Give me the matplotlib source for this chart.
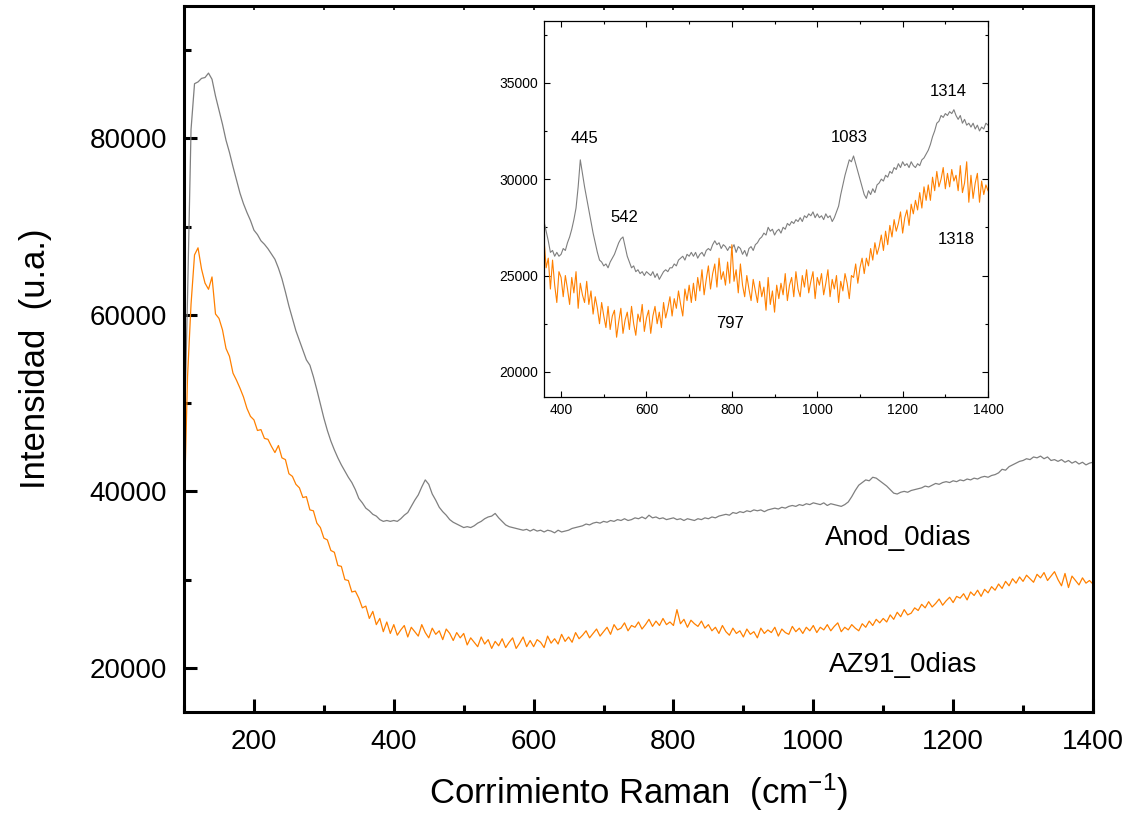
import numpy as np
import matplotlib
matplotlib.use('Agg')
import matplotlib.pyplot as plt
from matplotlib.ticker import MultipleLocator

plt.rcParams['font.family'] = ['Liberation Sans', 'DejaVu Sans']
plt.rcParams['mathtext.fontset'] = 'custom'
plt.rcParams['mathtext.rm'] = 'Liberation Sans'
plt.rcParams['mathtext.default'] = 'regular'

###
# DADOS (intensidade em milhares de contagens)
###
raman = np.arange(100, 1401, 5)  # eixo principal, passo de 5 cm-1

anod_0dias = [
    45.0, 62.0, 81.0, 86.2, 86.4, 86.8, 86.9, 87.4, 86.7, 84.8,
    83.2, 81.6, 79.8, 78.4, 76.8, 75.3, 73.8, 72.6, 71.6, 70.7,
    69.6, 69.1, 68.4, 68.0, 67.5, 66.9, 66.3, 65.3, 64.1, 62.6,
    61.0, 59.6, 58.2, 57.1, 56.0, 54.9, 54.3, 53.0, 51.5, 49.9,
    48.3, 46.9, 45.7, 44.7, 43.8, 43.0, 42.3, 41.6, 41.0, 40.2,
    39.2, 38.7, 38.1, 37.8, 37.4, 37.2, 36.8, 36.6, 36.7, 36.6,
    36.7, 36.6, 36.9, 37.3, 37.6, 38.3, 39.0, 39.6, 40.5, 41.3,
    40.8, 39.7, 39.0, 38.2, 37.7, 37.3, 36.8, 36.5, 36.3, 36.1,
    35.9, 36.0, 35.9, 36.1, 36.4, 36.6, 36.9, 37.1, 37.2, 37.5,
    37.0, 36.6, 36.2, 36.0, 35.9, 35.8, 35.7, 35.6, 35.7, 35.5,
    35.7, 35.5, 35.6, 35.4, 35.6, 35.5, 35.3, 35.6, 35.4, 35.5,
    35.6, 35.8, 35.9, 36.0, 36.1, 36.3, 36.2, 36.4, 36.5, 36.4,
    36.6, 36.5, 36.7, 36.6, 36.8, 36.7, 36.9, 36.7, 36.8, 37.0,
    36.9, 37.1, 36.9, 37.3, 37.0, 37.1, 36.9, 37.0, 36.8, 36.9,
    37.0, 36.8, 36.9, 36.7, 36.9, 36.8, 36.7, 36.9, 36.8, 37.0,
    36.9, 37.1, 37.0, 37.2, 37.3, 37.4, 37.3, 37.6, 37.5, 37.7,
    37.6, 37.8, 37.7, 37.9, 37.8, 37.9, 37.7, 37.9, 38.0, 38.1,
    38.0, 38.2, 38.1, 38.3, 38.4, 38.3, 38.5, 38.4, 38.6, 38.5,
    38.7, 38.6, 38.5, 38.7, 38.4, 38.6, 38.5, 38.4, 38.3, 38.5,
    38.8, 39.4, 40.1, 40.7, 41.0, 41.3, 41.2, 41.6, 41.5, 41.2,
    40.9, 40.6, 40.2, 39.8, 39.7, 39.9, 40.0, 39.9, 40.1, 40.2,
    40.3, 40.4, 40.6, 40.5, 40.7, 40.9, 40.8, 41.0, 41.1, 41.0,
    41.2, 41.1, 41.3, 41.2, 41.4, 41.3, 41.5, 41.4, 41.6, 41.7,
    41.6, 41.8, 41.9, 42.1, 42.5, 42.4, 42.8, 43.0, 43.2, 43.4,
    43.5, 43.7, 43.6, 43.9, 43.8, 44.0, 43.7, 43.9, 43.5, 43.6,
    43.4, 43.6, 43.3, 43.5, 43.2, 43.4, 43.1, 43.3, 43.0, 43.2,
    43.3]

az91_0dias = [
    37.3, 53.0, 61.2, 66.8, 67.6, 65.2, 63.6, 62.9, 64.3, 60.1,
    59.6, 58.3, 56.2, 55.3, 53.4, 52.6, 51.7, 50.7, 49.4, 48.5,
    48.1, 46.9, 47.0, 46.0, 45.9, 45.1, 44.4, 45.2, 43.8, 43.6,
    42.0, 41.7, 40.8, 40.4, 39.3, 39.4, 37.9, 37.8, 36.4, 35.9,
    34.7, 34.5, 33.3, 33.1, 31.6, 31.5, 30.0, 29.9, 28.6, 28.7,
    27.9, 26.8, 27.0, 25.6, 26.4, 24.9, 25.6, 24.1, 25.2, 23.9,
    24.9, 23.7, 24.3, 24.8, 23.5, 24.6, 24.1, 23.6, 24.9, 24.0,
    23.4, 24.5, 23.8, 24.2, 23.2, 24.4, 23.9, 23.1, 24.0, 23.4,
    23.9, 22.6, 23.4, 22.9, 22.4, 23.5, 22.7, 23.2, 22.2, 23.0,
    22.5, 23.3, 22.3, 22.9, 23.4, 22.2, 22.8, 23.5, 22.4, 23.1,
    22.4, 23.2, 22.9, 22.3, 23.6, 22.8, 23.3, 22.7, 23.8, 23.0,
    23.5, 22.9, 24.0, 23.3, 23.7, 24.2, 23.4, 23.9, 24.4, 23.6,
    24.1, 24.6, 23.8, 24.9, 24.3, 24.5, 25.1, 24.2, 24.8, 24.6,
    25.2, 24.4, 24.9, 25.5, 24.7, 25.3, 24.8, 25.6, 24.9, 25.2,
    24.8, 26.6, 25.0, 25.5, 24.6, 25.4, 25.0, 24.7, 25.3, 24.5,
    24.9, 24.2, 24.6, 23.9, 24.8, 24.1, 23.7, 24.5, 23.9, 24.2,
    23.5, 24.4, 23.8, 24.1, 23.4, 24.5, 23.9, 24.3, 24.0, 24.6,
    23.6, 24.4, 24.0, 23.8, 24.7, 24.1, 24.5, 23.9, 24.6, 24.2,
    24.8, 24.0, 24.6, 24.3, 24.9, 24.2, 24.7, 25.1, 24.1, 24.6,
    24.3, 24.9, 24.5, 24.2, 25.0, 24.6, 25.3, 24.8, 25.5, 25.1,
    25.6, 25.2, 26.0, 25.5, 26.3, 25.8, 26.6, 26.0, 26.2, 26.8,
    26.5, 27.2, 26.8, 27.5, 26.9, 27.3, 27.8, 27.1, 27.6, 28.0,
    27.4, 28.1, 27.9, 28.4, 27.7, 28.6, 28.2, 28.8, 28.1, 28.9,
    28.5, 29.2, 28.8, 29.5, 29.0, 29.8, 29.3, 30.1, 29.6, 30.3,
    29.8, 30.5, 30.1, 29.7, 30.6, 30.2, 30.8, 29.9, 30.4, 30.9,
    30.0, 29.3, 30.7, 29.1, 30.4, 29.9, 29.4, 30.2, 29.6, 29.9,
    29.5]

raman_zoom = np.arange(360, 1401, 5)  # eixo do detalhe

anod_zoom = [
    27.8, 27.3, 26.8, 26.2, 26.3, 26.0, 26.2, 26.0, 26.1, 26.4,
    26.3, 26.7, 27.0, 27.4, 27.9, 28.5, 29.6, 31.0, 30.3, 29.6,
    29.0, 28.4, 27.8, 27.2, 26.7, 26.2, 25.8, 25.7, 25.5, 25.6,
    25.4, 25.7, 25.9, 26.1, 26.4, 26.7, 26.9, 27.0, 26.5, 26.0,
    25.7, 25.4, 25.5, 25.2, 25.3, 25.1, 25.2, 25.0, 25.2, 25.1,
    25.0, 25.2, 24.9, 25.1, 24.8, 25.0, 25.2, 25.3, 25.2, 25.4,
    25.4, 25.6, 25.5, 25.8, 25.9, 26.0, 25.8, 26.1, 26.0, 26.2,
    26.0, 26.2, 25.9, 26.1, 26.2, 26.0, 26.3, 26.4, 26.3, 26.6,
    26.8, 26.6, 26.7, 26.4, 26.6, 26.5, 26.3, 26.5, 26.4, 26.6,
    26.2, 26.5, 26.4, 26.1, 26.3, 26.0, 26.4, 26.5, 26.3, 26.6,
    26.7, 26.9, 27.0, 27.2, 27.1, 27.5, 27.3, 27.4, 27.1, 27.3,
    27.4, 27.2, 27.5, 27.4, 27.7, 27.6, 27.8, 27.7, 27.9, 27.8,
    28.0, 27.8, 28.1, 28.0, 28.2, 28.1, 28.3, 28.0, 28.2, 28.0,
    28.1, 27.9, 28.2, 28.0, 28.1, 27.8, 28.0, 28.3, 28.6, 29.2,
    29.7, 30.2, 30.6, 31.0, 30.9, 31.2, 30.8, 30.4, 30.0, 29.6,
    29.2, 29.0, 29.4, 29.2, 29.5, 29.3, 29.7, 29.8, 30.0, 29.9,
    30.2, 30.1, 30.4, 30.3, 30.6, 30.5, 30.8, 30.6, 30.9, 30.7,
    30.8, 30.6, 30.9, 30.7, 30.6, 30.8, 30.7, 31.0, 31.1, 31.3,
    31.5, 31.8, 32.2, 32.5, 32.9, 33.0, 33.3, 33.2, 33.4, 33.3,
    33.5, 33.4, 33.6, 33.3, 33.1, 33.3, 32.9, 33.1, 32.8, 32.9,
    32.7, 32.9, 32.6, 32.8, 32.5, 32.7, 32.6, 32.9, 32.8]

az91_zoom = [
    26.9, 25.4, 25.9, 24.3, 25.8, 24.5, 23.6, 25.2, 24.9, 23.9,
    25.0, 24.3, 23.5, 24.9, 24.1, 25.2, 23.3, 24.6, 24.0, 23.6,
    24.7, 23.5, 24.2, 23.0, 23.9, 23.3, 22.5, 23.6, 22.9, 22.3,
    23.4, 22.2, 22.9, 23.2, 21.8, 22.6, 23.3, 22.0, 22.7, 23.1,
    22.2, 23.4, 22.5, 21.9, 23.0, 22.6, 23.5, 22.1, 22.8, 23.2,
    22.0, 22.9, 23.4, 22.5, 23.1, 22.3, 23.6, 22.8, 23.3, 23.9,
    22.9, 23.8, 23.3, 24.2, 23.5, 22.9, 24.3, 23.7, 24.5, 23.6,
    24.6, 23.7, 24.9, 24.2, 25.3, 24.0, 24.8, 25.5, 24.3, 25.1,
    25.6, 24.4, 25.9, 24.8, 25.2, 24.5, 25.7, 24.6, 26.6, 24.7,
    25.3, 24.1, 25.6, 24.5, 23.9, 25.0, 24.3, 23.7, 24.8, 24.2,
    23.6, 24.7, 23.9, 24.4, 23.2, 24.9, 23.5, 24.2, 23.1, 24.5,
    23.8, 24.6, 24.0, 25.1, 23.7, 24.5, 24.9, 23.9, 25.2, 24.3,
    23.9, 25.0, 24.4, 25.3, 24.1, 24.7, 25.2, 23.8, 24.9, 24.5,
    25.1, 24.0, 24.6, 25.3, 23.9, 24.8, 24.3, 25.0, 23.6, 24.7,
    24.2, 25.1, 24.6, 23.8, 25.0, 24.9, 25.6, 24.6, 25.4, 25.9,
    25.1, 25.9, 25.5, 26.4, 25.8, 26.7, 26.1, 26.5, 27.1, 26.3,
    27.3, 26.6, 27.6, 27.0, 27.9, 27.3, 27.7, 28.3, 27.2, 28.0,
    28.4, 27.6, 28.7, 28.2, 28.9, 28.4, 29.3, 28.5, 29.6, 28.9,
    29.7, 28.9, 30.1, 29.4, 30.4, 29.6, 30.0, 30.6, 29.5, 30.3,
    29.6, 30.5, 29.9, 30.2, 29.4, 30.7, 29.3, 29.8, 30.9, 28.8,
    30.2, 29.0, 29.8, 30.3, 28.8, 29.9, 29.2, 29.7, 29.4]

# picos marcados no detalhe: (texto, x, y)
picos = [('445', 454, 32130), ('542', 547, 28035), ('1083', 1074, 32180),
         ('1314', 1306, 34570), ('1318', 1325, 26890), ('797', 796, 22490)]

cinza = '#7f7f7f'
laranja = '#ff8000'

###
# GRAFICO PRINCIPAL
###
fig = plt.figure(figsize=(11.27, 8.15), dpi=100)
ax = fig.add_axes([0.1633, 0.1264, 0.8065, 0.8662])
ax.plot(raman, np.array(anod_0dias) * 1000, color=cinza, lw=0.9)
ax.plot(raman, np.array(az91_0dias) * 1000, color=laranja, lw=0.9)
ax.set_xlim(100, 1400)
ax.set_ylim(15000, 95000)
ax.xaxis.set_major_locator(MultipleLocator(200))
ax.xaxis.set_minor_locator(MultipleLocator(100))
ax.yaxis.set_major_locator(MultipleLocator(20000))
ax.yaxis.set_minor_locator(MultipleLocator(10000))
ax.tick_params(which='both', direction='in', width=2.2, labelsize=20, pad=12)
ax.tick_params(which='major', length=9.5)
ax.tick_params(which='minor', length=5)
for s in ax.spines.values():
    s.set_linewidth(2.2)
# tracinhos curtos no eixo de cima
topo = ax.secondary_xaxis('top')
topo.xaxis.set_major_locator(MultipleLocator(100))
topo.tick_params(direction='in', length=3, width=1.2, labelsize=0, labeltop=False)
ax.set_xlabel('Corrimiento Raman  (cm$^{-1}$)', fontsize=25, labelpad=12)
ax.set_ylabel('Intensidad  (u.a.)', fontsize=25, labelpad=27)
ax.text(1121, 34700, 'Anod_0dias', fontsize=20, ha='center', va='center')
ax.text(1128, 20330, 'AZ91_0dias', fontsize=20, ha='center', va='center')

###
# DETALHE (inset)
###
axi = fig.add_axes([0.4827, 0.5129, 0.394, 0.4613])
axi.plot(raman_zoom, np.array(anod_zoom) * 1000, color=cinza, lw=0.8)
axi.plot(raman_zoom, np.array(az91_zoom) * 1000, color=laranja, lw=0.8)
axi.set_xlim(360, 1400)
axi.set_ylim(18700, 38200)
axi.xaxis.set_major_locator(MultipleLocator(200))
axi.xaxis.set_minor_locator(MultipleLocator(100))
axi.yaxis.set_major_locator(MultipleLocator(5000))
axi.yaxis.set_minor_locator(MultipleLocator(2500))
axi.tick_params(which='both', direction='in', width=0.8, labelsize=10, pad=4,
                top=True, right=True)
axi.tick_params(which='major', length=4)
axi.tick_params(which='minor', length=2.5)
for s in axi.spines.values():
    s.set_linewidth(0.9)
for txt, x, y in picos:
    axi.text(x, y, txt, fontsize=12, ha='center', va='center')

fig.savefig('out.png', dpi=100)
